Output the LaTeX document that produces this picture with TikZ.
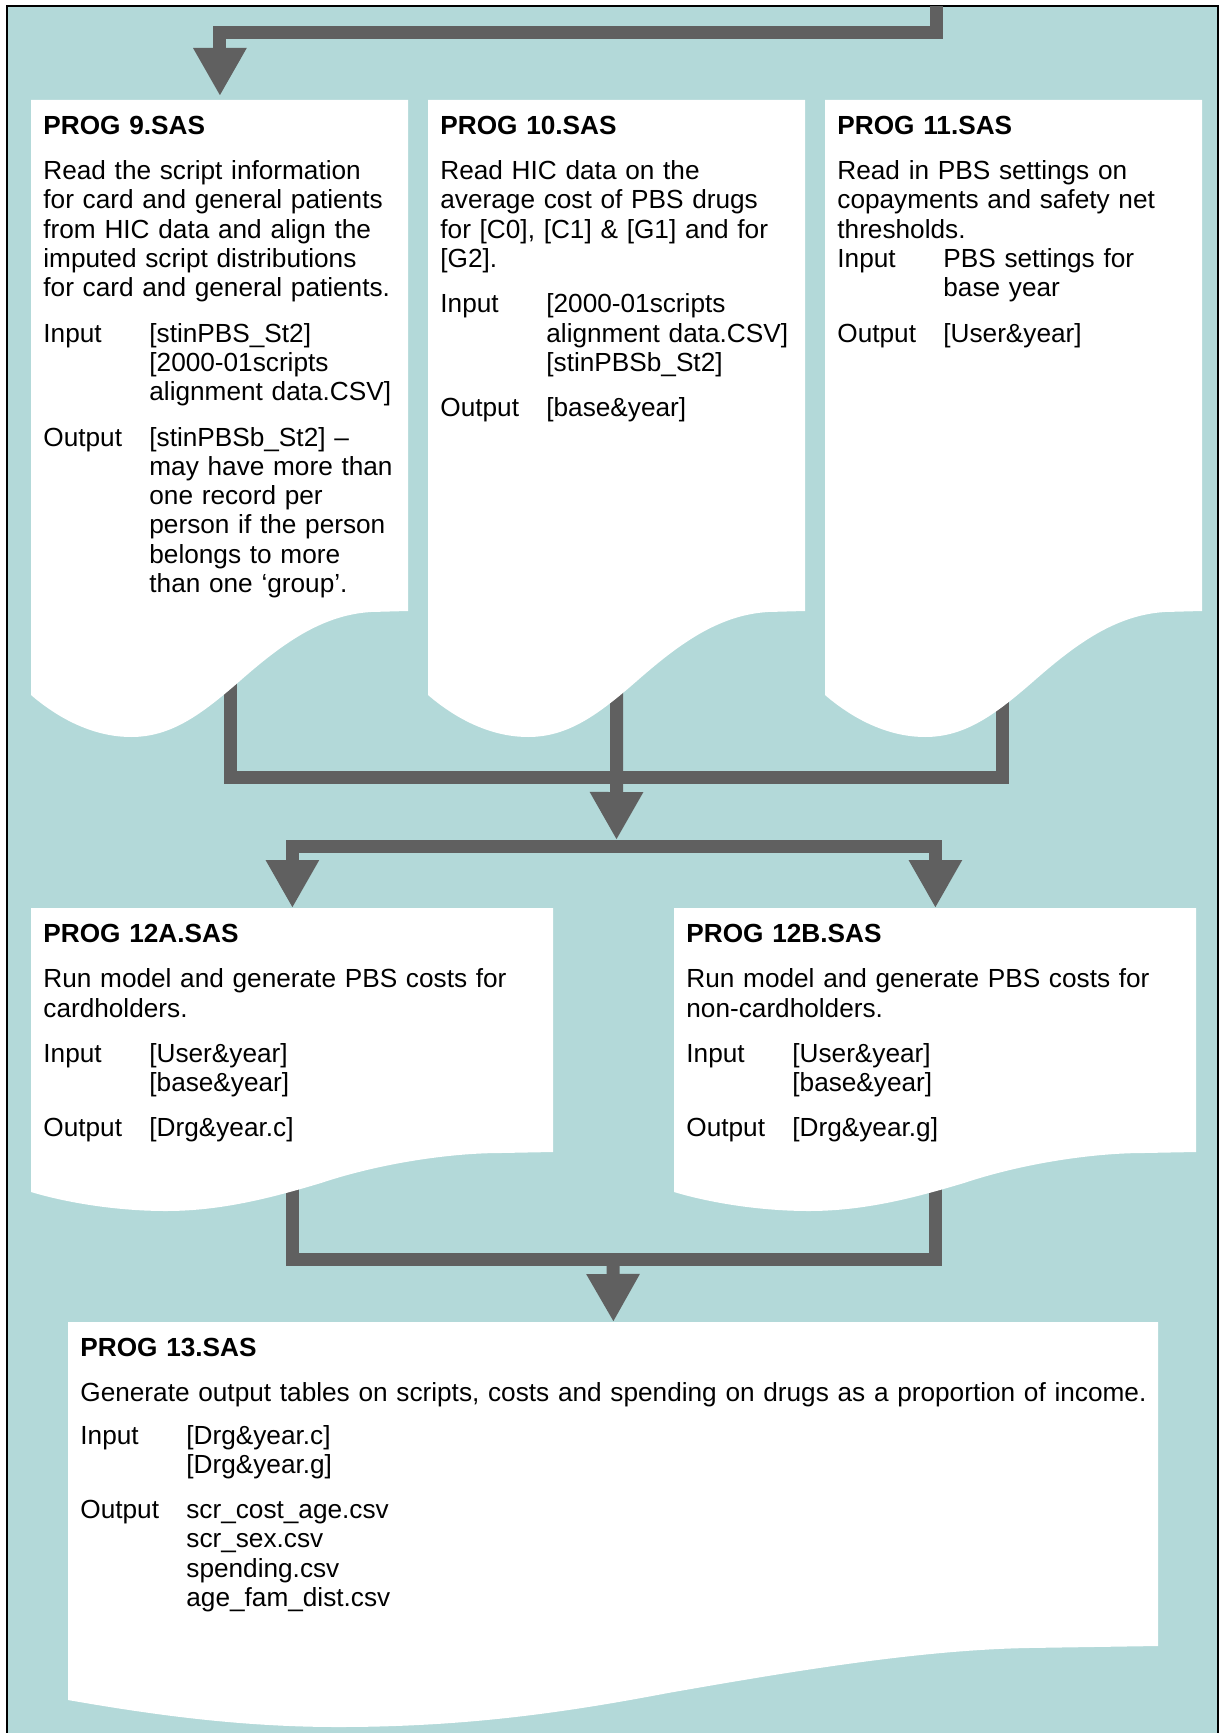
\documentclass[tikz,border=0pt]{standalone}
\usepackage{fontspec}
\setmainfont{Liberation Sans}
\usepackage{tikz}
\usetikzlibrary{arrows.meta,positioning}
\definecolor{sea}{HTML}{B3D9D9}
\definecolor{pipe}{HTML}{606060}
\pgfdeclarelayer{back}
\pgfdeclarelayer{mid}
\pgfsetlayers{back,mid,main}
\setlength{\parindent}{0pt}
\newcommand\io[1]{\makebox[53pt][l]{#1}}
\newcommand\prog[1]{\rule{0pt}{17pt}\textbf{PROG #1.SAS}\\[8pt]}

\begin{document}
\begin{tikzpicture}[x=0.5pt,y=-0.5pt,>={Triangle[length=24pt,width=25pt]},
    sheet/.style={anchor=north west,inner xsep=6pt,inner ysep=0pt,align=left,
      font=\fontsize{13.1pt}{14.65pt}\selectfont},
    pipe/.style={draw=pipe,line width=6.5pt}]
  \useasboundingbox (0,0) rectangle (1220,1733);

  % programme sheets
  \node[sheet,text width=176.5pt] (p9) at (31,100) {\prog{9}Read the script information\\for card and general patients\\from HIC data and align the\\imputed script distributions\\for card and general patients.\\[8pt]
    \io{Input}[stinPBS\_St2]\\\io{}[2000-01scripts\\\io{}alignment data.CSV]\\[8pt]
    \io{Output}[stinPBSb\_St2] --\\\io{}may have more than\\\io{}one record per\\\io{}person if the person\\\io{}belongs to more\\\io{}than one `group'.};
  \node[sheet,text width=176.5pt] (p10) at (428,100) {\prog{10}Read HIC data on the\\average cost of PBS drugs\\for [C0], [C1] \& [G1] and for\\{}[G2].\\[8pt]
    \io{Input}[2000-01scripts\\\io{}alignment data.CSV]\\\io{}[stinPBSb\_St2]\\[8pt]
    \io{Output}[base\&year]};
  \node[sheet,text width=176.5pt] (p11) at (825,100) {\prog{11}Read in PBS settings on\\copayments and safety net\\thresholds.\\
    \io{Input}PBS settings for\\\io{}base year\\[8pt]
    \io{Output}[User\&year]};
  \node[sheet,text width=249pt] (p12a) at (31,908) {\prog{12A}Run model and generate PBS costs for\\cardholders.\\[8pt]
    \io{Input}[User\&year]\\\io{}[base\&year]\\[8pt]
    \io{Output}[Drg\&year.c]};
  \node[sheet,text width=249pt] (p12b) at (674,908) {\prog{12B}Run model and generate PBS costs for\\non-cardholders.\\[8pt]
    \io{Input}[User\&year]\\\io{}[base\&year]\\[8pt]
    \io{Output}[Drg\&year.g]};
  \node[sheet,text width=533pt] (p13) at (68,1322) {\prog{13}\mbox{Generate output tables on scripts, costs and spending on drugs as a proportion of income.}\\[6.5pt]
    \io{Input}[Drg\&year.c]\\\io{}[Drg\&year.g]\\[8pt]
    \io{Output}scr\_cost\_age.csv\\\io{}scr\_sex.csv\\\io{}spending.csv\\\io{}age\_fam\_dist.csv};

  % white paper shapes behind the text
  \begin{pgfonlayer}{mid}
    \foreach \p in {p9,p10,p11}
      \fill[white,shift={(\p.north west)}] (0,0) -- (377,0) -- (377,511) -- (340,512)
        .. controls (290,515) and (250,545) .. (210,580)
        .. controls (170,615) and (140,637) .. (100,637)
        .. controls (70,637) and (35,625) .. (0,595) -- cycle;
    \foreach \p in {p12a,p12b}
      \fill[white,shift={(\p.north west)}] (0,0) -- (522,0) -- (522,244) -- (470,245)
        .. controls (420,245) and (350,255) .. (290,275)
        .. controls (240,290) and (190,303) .. (135,303)
        .. controls (90,303) and (40,296) .. (0,284) -- cycle;
    \fill[white,shift={(p13.north west)}] (0,0) -- (1090,0) -- (1090,324) -- (960,326)
      .. controls (850,328) and (720,350) .. (600,371)
      .. controls (500,390) and (400,405) .. (270,405)
      .. controls (170,405) and (80,392) .. (0,378) -- cycle;
  \end{pgfonlayer}

  % frame and flow lines
  \begin{pgfonlayer}{back}
    \fill[sea] (7,6) rectangle (1218,1733);
    \draw[line width=1pt] (7,1733) -- (7,6) -- (1218,6) -- (1218,1733);
    \coordinate (feed) at (936,6);
    \coordinate (join1) at (616.5,777.5);
    \coordinate (split1) at (616.5,846.5);
    \coordinate (join2) at (613,1259.5);
    \draw[pipe,->,shorten >=2pt] (feed) -- ++(0,27) -| (p9.north);
    \draw[pipe] ([xshift=5.25pt]p9.south) |- (join1) -| ([xshift=-5.75pt]p11.south);
    \draw[pipe,->] (p10.south) -- ([yshift=3.25pt]split1);
    \draw[pipe,<->] (p12a.north) |- (split1) -| (p12b.north);
    \draw[pipe] (p12a.south) |- (join2) -| (p12b.south);
    \draw[pipe,->] (join2) -- (p13.north);
  \end{pgfonlayer}
\end{tikzpicture}
\end{document}
